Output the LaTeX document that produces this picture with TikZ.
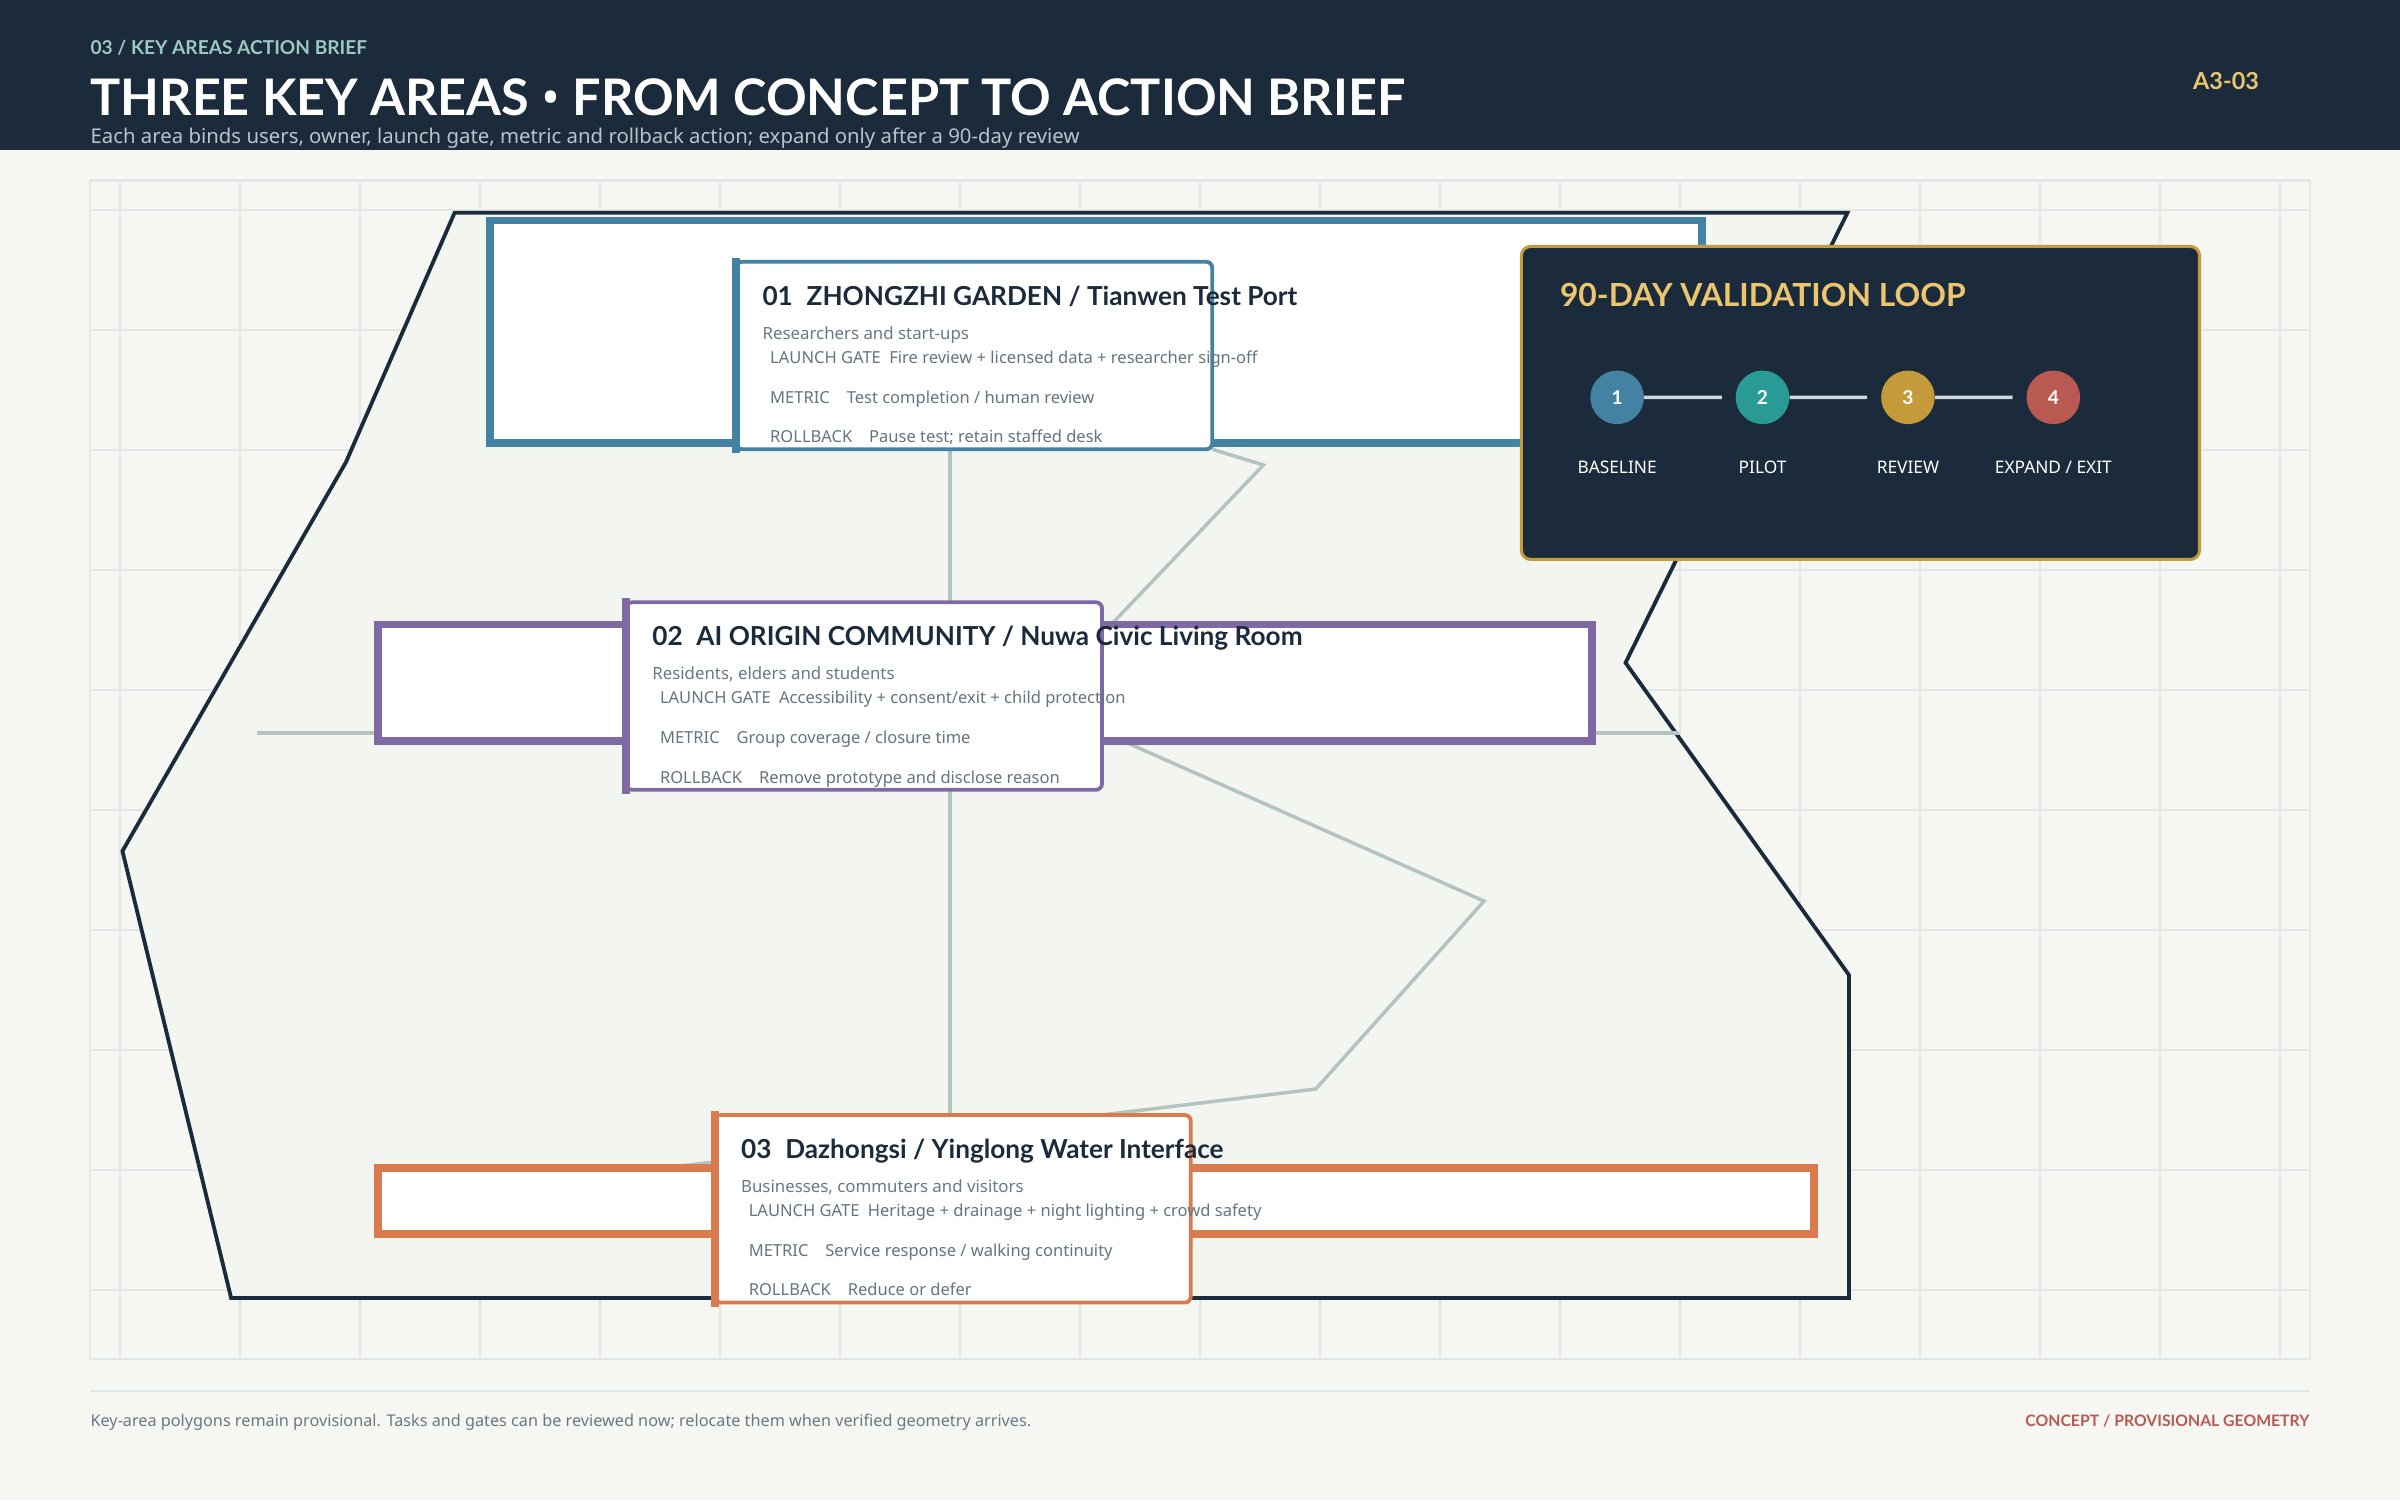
\documentclass[tikz,border=0pt]{standalone}
\usepackage{fontspec}
\setmainfont{Noto Sans}
\newfontfamily\heavy{Lato}
\usepackage{tikz}
\usetikzlibrary{positioning,calc}
\pgfdeclarelayer{ground}
\pgfdeclarelayer{links}
\pgfsetlayers{ground,links,main}

\definecolor{inkdark}{HTML}{1B2B3B}
\definecolor{paper}{HTML}{F6F6F2}
\definecolor{zonefill}{HTML}{F2F5F0}
\definecolor{gridgray}{HTML}{E0E7E5}
\definecolor{linkgray}{HTML}{B3C3BF}
\definecolor{areablue}{HTML}{4382A2}
\definecolor{areapurple}{HTML}{7E69A3}
\definecolor{areaorange}{HTML}{D97B4E}
\definecolor{stepteal}{HTML}{2A9A95}
\definecolor{stepgold}{HTML}{C49A3A}
\definecolor{stepred}{HTML}{B85A52}
\definecolor{goldtext}{HTML}{EBC66E}
\definecolor{kickerteal}{HTML}{9CC9C2}
\definecolor{subgray}{HTML}{B7C4CC}
\definecolor{textgray}{HTML}{6A7884}
\definecolor{linegray}{HTML}{65747F}
\definecolor{steprule}{HTML}{CFD9DB}

\newcommand{\pxfont}[1]{\fontsize{#1}{#1}\selectfont}
\newcommand{\heavyface}{\heavy\bfseries}

\tikzset{
  txt/.style={inner sep=0pt, anchor=base west},
  kicker/.style={txt, text=kickerteal, font=\pxfont{12.5}\heavyface},
  headline/.style={txt, text=white, font=\pxfont{32.9}\heavyface},
  subline/.style={txt, text=subgray, font=\pxfont{13.3}},
  sheetno/.style={inner sep=0pt, anchor=base east, text=goldtext, font=\pxfont{15.3}\heavyface},
  gridline/.style={draw=gridgray, line width=1pt},
  zone/.style={draw=inkdark, fill=zonefill, line width=2.5pt},
  link/.style={draw=linkgray, line width=2.3pt},
  area/.style={rectangle, anchor=north west, inner sep=0pt, outer sep=0pt, fill=white, line width=5pt},
  card/.style={rectangle, anchor=north west, inner sep=0pt, outer sep=0pt, minimum width=311pt,
    minimum height=122.5pt, fill=white, line width=2.5pt, rounded corners=4pt},
  cardhead/.style={txt, text=inkdark, font=\pxfont{17.1}\heavyface},
  cardusers/.style={txt, text=textgray, font=\pxfont{11}},
  cardline/.style={txt, text=linegray, font=\pxfont{10.8}},
  loopbox/.style={rectangle, anchor=north west, inner sep=0pt, outer sep=0pt, minimum width=443pt,
    minimum height=204.5pt, fill=inkdark, draw=stepgold, line width=2pt, rounded corners=6pt},
  looptitle/.style={txt, text=goldtext, font=\pxfont{20.8}\heavyface},
  stepdot/.style={circle, minimum size=35pt, inner sep=0pt, text=white, font=\pxfont{12.5}\heavyface},
  steplabel/.style={inner sep=0pt, anchor=base, text=white, font=\pxfont{11.3}},
  stepline/.style={draw=steprule, line width=2.2pt},
  rule/.style={draw=gridgray, line width=1.3pt},
  footnote/.style={txt, text=textgray, font=\pxfont{10.6}},
  footflag/.style={inner sep=0pt, anchor=base east, text=stepred, font=\pxfont{10.3}\heavyface}
}

% key-area card: name, corner, colour, title, users, gate, metric, rollback
\newcommand{\keycard}[8]{%
  \node[card, draw=#3] (#1) at #2 {};
  \draw[#3, line width=5.5pt, line cap=rect] (#1.north west) -- (#1.south west);
  \node[cardhead] (#1-title) at ($(#1.north west)+(17,28.5)$) {#4};
  \node[cardusers] (#1-users) at ($(#1.north west)+(17,50.7)$) {#5};
  \node[cardline] (#1-gate) at ($(#1.north west)+(22,66.4)$) {LAUNCH GATE\hspace{5.5pt}#6};
  \node[cardline] (#1-metric) at ($(#1.north west)+(22,92.5)$) {METRIC\hspace{11pt}#7};
  \node[cardline] (#1-back) at ($(#1.north west)+(22,118.2)$) {ROLLBACK\hspace{11pt}#8};
}

\begin{document}
\begin{tikzpicture}[x=1pt, y=-1pt]
\useasboundingbox (0,0) rectangle (1568,980);

\begin{pgfonlayer}{ground}
  \fill[paper] (0,0) rectangle (1568,980);
  \fill[inkdark] (0,0) rectangle (1568,98);
  % map frame with grid
  \draw[gridline, line width=1.5pt] (59,118) rectangle (1509,888);
  \foreach \k in {1,...,19} \draw[gridline] (78.4*\k,118) -- (78.4*\k,888);
  \foreach \k in {1,...,10} \draw[gridline] (59,58.8+78.4*\k) -- (1509,58.8+78.4*\k);
  % provisional district outline
  \draw[zone] (297,139) -- (1207,139) -- (1062,433) -- (1208,637) -- (1208,848)
    -- (151,848) -- (80,556) -- (226,302) -- cycle;
\end{pgfonlayer}

% header
\node[kicker] (kicker) at (59,35.3) {03 / KEY AREAS ACTION BRIEF};
\node[headline] (headline) at (59,75.6) {THREE KEY AREAS {\normalfont\bfseries •} FROM CONCEPT TO ACTION BRIEF};
\node[subline] (subline) at (59,93.6) {Each area binds users, owner, launch gate, metric and rollback action; expand only after a 90-day review};
\node[sheetno] (sheetno) at (1476,58.4) {A3-03};

% key areas
\node[area, draw=areablue, minimum width=792pt, minimum height=145.5pt] (a1) at (320,144) {};
\node[area, draw=areapurple, minimum width=793pt, minimum height=76pt] (a2) at (247,408) {};
\node[area, draw=areaorange, minimum width=938pt, minimum height=43pt] (a3) at (247,763) {};

\keycard{c1}{(481,171)}{areablue}{01\hspace{9pt}ZHONGZHI GARDEN / Tianwen Test Port}
  {Researchers and start-ups}{Fire review + licensed data + researcher sign-off}
  {Test completion / human review}{Pause test; retain staffed desk}
\keycard{c2}{(409,393.5)}{areapurple}{02\hspace{9pt}AI ORIGIN COMMUNITY / Nuwa Civic Living Room}
  {Residents, elders and students}{Accessibility + consent/exit + child protection}
  {Group coverage / closure time}{Remove prototype and disclose reason}
\keycard{c3}{(467,728.5)}{areaorange}{03\hspace{9pt}Dazhongsi / Yinglong Water Interface}
  {Businesses, commuters and visitors}{Heritage + drainage + night lighting + crowd safety}
  {Service response / walking continuity}{Reduce or defer}

% links between areas
\coordinate (spine) at (620.5,0);
\coordinate (hwest) at (168,479);
\coordinate (heast) at (1097,479);
\coordinate (k1) at (825.4,303.8);
\coordinate (k2) at (969.6,588.7);
\coordinate (k3) at (859.6,711.5);
\begin{pgfonlayer}{links}
  \draw[link] (c1.south -| spine) -- (c3.north -| spine);
  \draw[link] (hwest) -- (heast);
  \draw[link] (c1.south east) -- (k1) -- ($(c2.north east)!.17!(c2.south east)$);
  \draw[link] ($(c2.north east)!.69!(c2.south east)$) -- (k2) -- (k3)
    -- ($(a3.north west)!.2!(a3.north east)$);
\end{pgfonlayer}

% validation loop
\node[loopbox] (loop) at (994,161) {};
\node[looptitle] (loop-title) at (1019,200.4) {90-DAY VALIDATION LOOP};
\foreach \i/\lbl/\col in {1/BASELINE/areablue, 2/PILOT/stepteal, 3/REVIEW/stepgold, 4/{EXPAND / EXIT}/stepred}{
  \node[stepdot, fill=\col] (s\i) at (961.5+95*\i,259.6) {\i};
  \node[steplabel] (l\i) at (961.5+95*\i,309.3) {\lbl};
}
\foreach \i [count=\j from 2] in {1,2,3}
  \draw[stepline] (s\i.east) -- ($(s\i.center)!.72!(s\j.center)$);

% footer
\draw[rule] (59,909) -- (1509,909);
\node[footnote] (note) at (59,932) {Key-area polygons remain provisional. Tasks and gates can be reviewed now; relocate them when verified geometry arrives.};
\node[footflag] (flag) at (1509,932) {CONCEPT / PROVISIONAL GEOMETRY};
\end{tikzpicture}
\end{document}
